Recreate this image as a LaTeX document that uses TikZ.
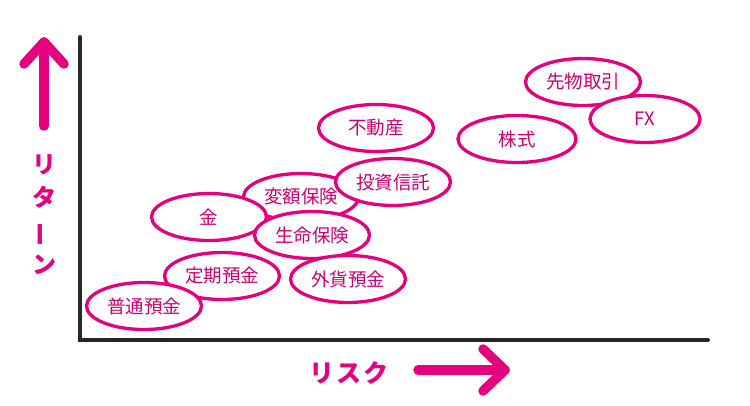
\documentclass[tikz,border=0pt]{standalone}
\usepackage{fontspec}
\newfontfamily\jp{Noto Sans CJK JP}
\definecolor{mag}{RGB}{228,0,127}
\begin{document}
\begin{tikzpicture}[x=1pt,y=-1pt,
  bub/.style={ellipse, draw=mag, line width=3.3pt, fill=white, minimum width=#1, minimum height=47pt, inner sep=0pt, font=\jp\fontsize{18.5}{18.5}\selectfont, text=mag!88!black},
  bub/.default=115pt,
  axisline/.style={line width=4pt, black!85, line cap=round},
  bigarrow/.style={line width=9.5pt, mag, line cap=round, line join=round},
  axlabel/.style={font=\jp\bfseries\fontsize{24}{24}\selectfont, text=mag, inner sep=0pt}]
\usetikzlibrary{shapes.geometric}
\useasboundingbox (0,0) rectangle (750,406);
% axes
\coordinate (o) at (80,340);
\coordinate (ytop) at (80,37);
\coordinate (xend) at (708,340);
\draw[axisline] (ytop) -- (o) -- (xend);
% up arrow
\coordinate (ua0) at (44,126);
\coordinate (ua1) at (44,42);
\coordinate (uaL) at (24,64);
\coordinate (uaR) at (64,64);
\draw[bigarrow] (ua0) -- (ua1);
\draw[bigarrow] (uaL) -- (ua1) -- (uaR);
% right arrow
\coordinate (ra0) at (418,370);
\coordinate (ra1) at (505,370);
\coordinate (raT) at (483,349);
\coordinate (raB) at (483,391);
\draw[bigarrow] (ra0) -- (ra1);
\draw[bigarrow] (raT) -- (ra1) -- (raB);
% labels
\node[axlabel] (r1) at (44,165) {リ};
\node[axlabel] (r2) at (44,197) {タ};
\node[axlabel, rotate=90] (r3) at (44,235) {ー};
\node[axlabel] (r4) at (44,265) {ン};
\node[axlabel, font=\jp\bfseries\fontsize{25}{25}\selectfont] (risk) at (349,373) {リ\hspace{2pt}ス\hspace{2pt}ク};
% bubbles
\node[bub] (hensu) at (301,197) {変額保険};
\node[bub] (fudo) at (376,128) {不動産};
\node[bub] (toshin) at (393,182) {投資信託};
\node[bub] (kin) at (209,217) {金};
\node[bub] (seimei) at (312,235) {生命保険};
\node[bub] (gaika) at (348,279) {外貨預金};
\node[bub] (teiki) at (222,276) {定期預金};
\node[bub] (futsu) at (144,306) {普通預金};
\node[bub] (saki) at (583,82) {先物取引};
\node[bub=110pt] (fx) at (645,119) {FX};
\node[bub=118pt] (kabu) at (517,139) {株式};
\end{tikzpicture}
\end{document}
